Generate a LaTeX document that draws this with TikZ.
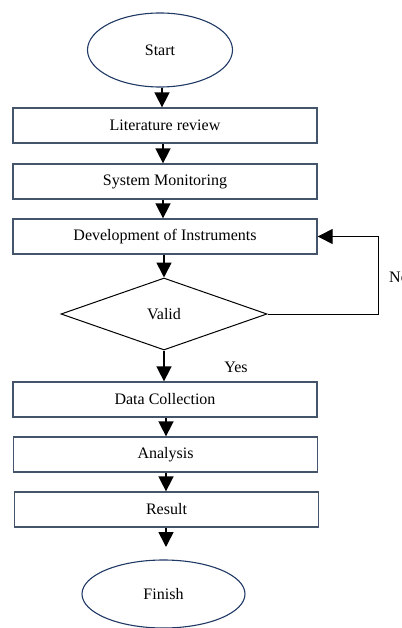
\documentclass[tikz,border=0pt]{standalone}
\usepackage{fontspec}
\setmainfont{Liberation Serif}
\usepackage{tikz}
\usetikzlibrary{arrows.meta,positioning,shapes.geometric,calc}
\definecolor{boxline}{RGB}{68,84,106}
\definecolor{ovalline}{RGB}{31,56,100}
\tikzset{
  box/.style={draw=boxline, line width=1.3pt, minimum width=304pt, minimum height=35pt, inner sep=0pt, align=center},
  oval/.style={ellipse, draw=ovalline, line width=1.1pt, inner sep=0pt},
  branch/.style={diamond, draw, line width=1pt, minimum width=206pt, minimum height=72pt, inner sep=0pt},
  line/.style={-{Triangle[width=15pt,length=15pt]}, line width=1.6pt},
  loopline/.style={-{Triangle[width=15pt,length=15pt]}, line width=1pt},
  lbl/.style={inner sep=0pt}
}

\begin{document}
\begin{tikzpicture}[x=1pt,y=-1pt,font=\fontsize{16}{19}\selectfont]
        \useasboundingbox (0,0) rectangle (401,628);
        \node[oval, minimum width=145pt, minimum height=74pt] (start) at (160,50) {Start};
        \node[box] (lit) at (165,125.5) {\raisebox{-4pt}{Literature review}};
        \node[box] (mon) at (165,181.5) {\raisebox{-4pt}{System Monitoring}};
        \node[box] (dev) at (165,236.5) {\raisebox{-3pt}{Development of Instruments}};
        \node[branch] (valid) at (164,314) {Valid};
        \node[box] (data) at (165,399.5) {Data Collection};
        \node[box] (ana) at (165.5,454.5) {\raisebox{-4pt}{Analysis}};
        \node[box] (res) at (166.5,509.5) {\raisebox{-2pt}{Result}};
        \node[oval, minimum width=163pt, minimum height=68pt] (finish) at (163.5,594) {Finish};
        \coordinate (loop) at (378,314);
        \coordinate (finin) at (166,547);
        \draw[line] (start.south -| 162,0) -- (lit.north -| 162,0);
        \draw[line] (lit.south -| 163,0) -- (mon.north -| 163,0);
        \draw[line] (mon.south -| 163,0) -- (dev.north -| 163,0);
        \draw[line] (dev.south -| 164,0) -- (valid.north);
        \draw[line] (valid.south) -- (data.north -| valid.south);
        \draw[line] (data.south -| 166,0) -- (ana.north -| 166,0);
        \draw[line] (ana.south -| 166,0) -- (res.north -| 166,0);
        \draw[line] (res.south -| 166,0) -- (finin);
        \draw[loopline] (valid.east) -- (loop) |- (dev.east);
        \node[lbl, anchor=west] (no) at (389,277) {No};
        \node[lbl] (yes) at (236,367) {Yes};
      \end{tikzpicture}
\end{document}
